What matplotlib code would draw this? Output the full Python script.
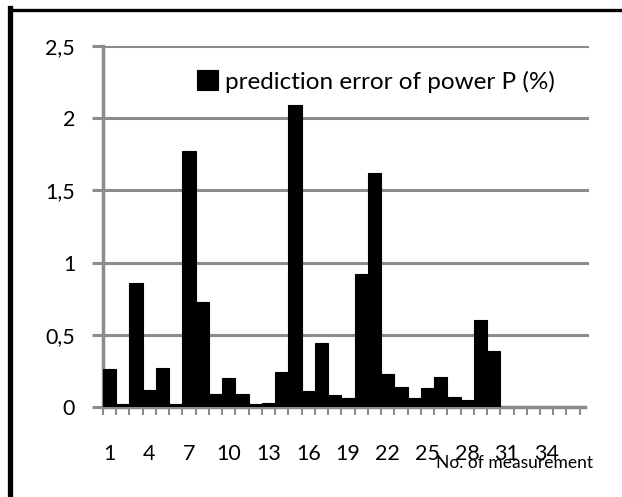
import matplotlib
matplotlib.use("Agg")
from matplotlib import pyplot as plt
from matplotlib.lines import Line2D
import numpy as np

measurement = list(range(1, 37))
error_p = [0.26, 0.02, 0.86, 0.12, 0.27, 0.02, 1.77, 0.73, 0.09, 0.20,
           0.09, 0.02, 0.03, 0.24, 2.09, 0.11, 0.44, 0.08, 0.06, 0.92,
           1.62, 0.23, 0.14, 0.06, 0.13, 0.21, 0.07, 0.05, 0.60, 0.39,
           0.0, 0.0, 0.0, 0.0, 0.0, 0.0]
xtick_labels = [1, 4, 7, 10, 13, 16, 19, 22, 25, 28, 31, 34]
ytick_values = [0, 0.5, 1, 1.5, 2, 2.5]
ytick_labels = ["0", "0,5", "1", "1,5", "2", "2,5"]

plt.rcParams['font.family'] = ['Lato', 'DejaVu Sans']
W, H = 622, 497
fig = plt.figure(figsize=(W / 100, H / 100), dpi=100)
ax = fig.add_axes([103 / W, 90 / H, (589 - 103) / W, (451 - 90) / H])

grey = "#8c8c8c"
for v in ytick_values[1:]:
    ax.axhline(v, color=grey, lw=2.2, zorder=1)
ax.bar(measurement, error_p, width=1.0, color="black", edgecolor="black",
       lw=0.8, zorder=3, label="prediction error of power P (%)")

ax.set_xlim(0.5, 37.2)
ax.set_ylim(0, 2.5)
ax.set_yticks(ytick_values)
ax.set_yticklabels(ytick_labels, fontsize=15.5)
ax.set_xticks(xtick_labels)
ax.set_xticklabels([str(v) for v in xtick_labels], fontsize=15.5)
ax.set_xticks(np.arange(0.5, 37, 1), minor=True)
ax.tick_params(axis="x", which="major", length=0, pad=27)
ax.tick_params(axis="x", which="minor", length=6, width=1.5, color=grey)
ax.tick_params(axis="y", length=8, width=2.2, color=grey, pad=12)

for s in ["top", "right"]:
    ax.spines[s].set_visible(False)
ax.spines["left"].set_color(grey)
ax.spines["left"].set_linewidth(2.5)
ax.spines["bottom"].set_color(grey)
ax.spines["bottom"].set_linewidth(2.5)
ax.spines["bottom"].set_bounds(0.5, 36.9)

ax.legend(loc="upper right", bbox_to_anchor=(0.975, 0.993), frameon=False,
          fontsize=17.5, handlelength=0.85, handleheight=0.85, handletextpad=0.3)

fig.text(593 / W, 1 - 463 / H, "No. of measurement", fontsize=12.5,
         ha="right", va="center")

# frame lines along the left and top edge
fig.add_artist(Line2D([9.5 / W, 9.5 / W], [0, 1 - 8 / H], transform=fig.transFigure,
                      color="black", lw=3.8, solid_capstyle="projecting"))
fig.add_artist(Line2D([9.5 / W, 1], [1 - 9.5 / H, 1 - 9.5 / H], transform=fig.transFigure,
                      color="black", lw=2.4, solid_capstyle="projecting"))

fig.savefig("out.png", dpi=100)
